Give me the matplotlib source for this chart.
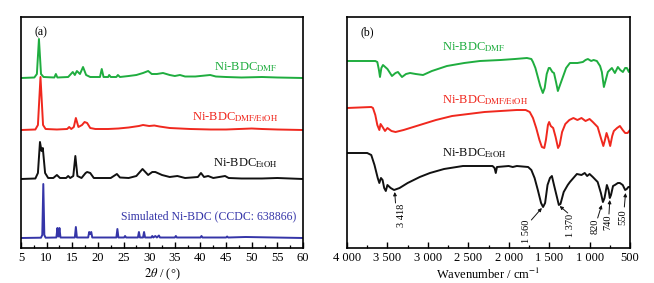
import matplotlib
matplotlib.use("Agg")
import matplotlib.pyplot as plt
import numpy as np

plt.rcParams["font.family"] = ["Liberation Serif", "DejaVu Serif"]
plt.rcParams["mathtext.fontset"] = "stix"

# ---- XRD (a): 2theta and intensity above each trace's baseline ----
XRD_DMF_X = [5, 7.6, 8.1, 8.5, 8.9, 9.4, 11.5, 11.8, 12.1, 14.2, 15.1, 15.5, 15.9,
             16.5, 17.1, 17.7, 18.5, 20.4, 20.75, 21.1, 22.0, 22.2, 22.5, 23.6, 23.9,
             24.3, 26, 27.5, 28.8, 29.8, 30.5, 31.5, 32.7, 34, 35, 36, 37, 39, 41.9,
             43, 45, 48, 52, 55, 60]
XRD_DMF_Y = [0, 0.5, 4, 39, 4, 1, 0.5, 4, 0.5, 1, 6, 3, 7,
             4, 11, 3, 1, 1, 9, 1, 1, 3, 1, 1, 3,
             1, 2, 3, 5, 7, 4, 4, 5, 3, 2, 3, 1.5, 1.5, 3,
             1.5, 1, 0.5, 1, 0.5, 0]

XRD_MIX_X = [5, 7.8, 8.3, 8.8, 9.3, 9.8, 12, 14.0, 14.4, 14.8, 15.3, 15.7, 16.2,
             16.9, 17.4, 17.9, 18.5, 19.5, 22, 24, 26, 28, 28.8, 30, 31, 32, 34, 36,
             38, 42, 45, 50, 52, 55, 60]
XRD_MIX_Y = [0, 0.5, 5, 53, 5, 1, 0.5, 1, 3, 1, 3, 12, 3,
             5, 8, 7, 2, 1, 1, 1.5, 2.5, 4, 5, 4, 4.5, 3.5, 2, 1.5,
             1, 0.5, 0.5, 1.5, 1, 0.5, 0]

XRD_ETOH_X = [5, 7.8, 8.3, 8.7, 9.0, 9.25, 9.7, 10.3, 11.3, 12.0, 12.6, 13.8, 14.2,
              14.6, 15.2, 15.6, 16.0, 16.8, 17.6, 17.9, 18.5, 19.2, 22.5, 23.7, 24.3,
              26, 27.5, 28.7, 29.8, 30.6, 31.2, 32.5, 34, 35.5, 37, 39.5, 40.1, 40.7,
              41.5, 42.5, 44.8, 45.5, 48, 52, 55, 60]
XRD_ETOH_Y = [0, 0.5, 6, 37, 28, 31, 6, 1, 1, 4, 1, 1, 3,
              1, 3, 23, 3, 1, 6, 7, 6, 1, 1, 5, 1.5,
              1, 3, 10, 4, 7, 7, 4, 2, 3, 1, 2, 6, 2,
              3, 1, 3, 1, 0.5, 0.5, 1, 0]

XRD_SIM_X = [5, 8.9, 9.15, 9.35, 9.55, 9.8, 11.9, 12.1, 12.3, 12.5, 12.7, 15.5,
             15.7, 15.9, 18.1, 18.3, 18.5, 18.7, 18.9, 23.6, 23.8, 24.0, 25.1, 25.3,
             25.5, 27.8, 28.0, 28.2, 28.8, 29.0, 29.2, 30.4, 30.6, 30.8, 31.2, 31.5,
             31.9, 32.1, 35.0, 35.2, 35.4, 40.0, 40.2, 40.4, 45, 45.2, 45.4, 48.8, 60]
XRD_SIM_Y = [0, 0.3, 3, 54, 3, 0.3, 0.5, 10, 1.5, 10, 0.5, 0.5,
             11, 0.5, 0.5, 6, 4, 6, 0.5, 0.5, 9, 0.5, 0.5, 2,
             0.5, 0.5, 6, 0.5, 0.5, 6, 0.5, 0.5, 2, 0.5, 2, 0.5,
             2.5, 0.5, 0.5, 2, 0.5, 0.5, 2, 0.5, 0.5, 1.5, 0.5, 1, 0]

XRD_BASE = {"DMF": 170, "MIX": 118, "ETOH": 69, "SIM": 10}

# ---- FTIR (b): wavenumber and offset transmittance ----
IR_DMF_X = [4000, 3650, 3625, 3605, 3592, 3575, 3555, 3500, 3444, 3400, 3370, 3340,
            3320, 3270, 3220, 3150, 3060, 2950, 2764, 2550, 2356, 2100, 1923, 1775,
            1720, 1700, 1670, 1640, 1610, 1578, 1555, 1530, 1505, 1490, 1460, 1440,
            1415, 1392, 1370, 1330, 1290, 1243, 1150, 1083, 1050, 1021, 980, 950,
            910, 870, 848, 823, 800, 774, 750, 724, 687, 650, 620, 588, 560, 539,
            514, 500]
IR_DMF_Y = [187, 187, 186, 178, 171, 180, 183, 179, 172, 175, 176, 173,
            171, 174, 175, 174, 173, 177, 182, 185, 187, 188, 189, 190,
            189, 186, 180, 171, 162, 155, 160, 174, 180, 180, 176, 175,
            166, 157, 162, 171, 180, 185, 185, 186, 188, 189, 187, 188,
            187, 182, 176, 161, 168, 176, 178, 180, 175, 181, 178, 176, 180, 180,
            176, 179]

IR_MIX_X = [4000, 3700, 3679, 3650, 3625, 3600, 3585, 3560, 3530, 3500, 3450, 3400,
            3300, 3100, 2900, 2700, 2500, 2300, 2100, 1900, 1790, 1740, 1700, 1660,
            1620, 1590, 1560, 1540, 1515, 1500, 1480, 1450, 1420, 1390, 1370, 1340,
            1300, 1250, 1200, 1150, 1100, 1050, 1000, 960, 900, 860, 830, 810, 790,
            770, 745, 720, 700, 660, 625, 590, 560, 530, 500]
IR_MIX_Y = [140, 141, 140, 133, 123, 118, 124, 121, 117, 120, 117, 116,
            118, 123, 128, 132, 134, 136, 137, 138, 138, 136, 130, 120,
            108, 101, 100, 108, 123, 126, 122, 120, 111, 100, 103, 116,
            124, 128, 130, 128, 130, 127, 129, 126, 121, 110, 102, 108, 115,
            110, 102, 112, 117, 120, 122, 118, 115, 115, 118]

IR_ETOH_X = [4000, 3750, 3700, 3660, 3620, 3600, 3580, 3560, 3540, 3520, 3500, 3460,
             3418, 3350, 3250, 3100, 2974, 2800, 2566, 2400, 2200, 2175, 2160, 2145,
             2000, 1950, 1900, 1760, 1720, 1680, 1640, 1600, 1575, 1550, 1520, 1490,
             1466, 1440, 1410, 1380, 1360, 1320, 1270, 1243, 1157, 1100, 1060, 1030,
             1000, 960, 900, 860, 835, 815, 786, 765, 750, 735, 710, 687, 650, 625,
             590, 560, 540, 520, 500]
IR_ETOH_Y = [95, 95, 93, 83, 70, 65, 70, 68, 60, 57, 63, 60,
             58, 60, 65, 71, 75, 79, 82, 82, 82, 80, 75, 81,
             82, 81, 82, 81, 78, 70, 58, 45, 41, 45, 63, 70,
             72, 63, 53, 43, 44, 56, 63, 66, 74, 73, 75, 72,
             74, 71, 66, 55, 46, 50, 63, 58, 50, 53, 62, 63, 65, 65,
             63, 58, 59, 61, 61]

# band labels: text, text x, text y, arrow tail, arrow head
BAND_LABELS = ["3 418", "1 560", "1 370", "820", "740", "550"]
BAND_TEXT_X = [3320, 1775, 1231, 934, 774, 589]
BAND_TEXT_Y = [33, 17, 23, 22, 26, 31]
BAND_TAIL = [(3400, 45), (1720, 28), (1270, 35), (900, 30), (760, 34), (570, 41)]
BAND_HEAD = [(3410, 56), (1590, 40), (1370, 42), (850, 43), (750, 48), (555, 55)]

GREEN = "#1fad3f"
RED = "#f0281e"
BLACK = "#111111"
BLUE = "#3535a8"
FS = 8.5
LW = 1.4

fig = plt.figure(figsize=(6.54, 2.83), dpi=100)
ax1 = fig.add_axes([21 / 654, 35 / 283, 282 / 654, 231 / 283])
ax2 = fig.add_axes([347 / 654, 35 / 283, 283 / 654, 231 / 283])

# ---- panel (a) ----
for xs, ys, key, c in [(XRD_DMF_X, XRD_DMF_Y, "DMF", GREEN),
                       (XRD_MIX_X, XRD_MIX_Y, "MIX", RED),
                       (XRD_ETOH_X, XRD_ETOH_Y, "ETOH", BLACK),
                       (XRD_SIM_X, XRD_SIM_Y, "SIM", BLUE)]:
    ax1.plot(xs, np.array(ys) + XRD_BASE[key], color=c, lw=LW)

ax1.set_xlim(5, 60)
ax1.set_ylim(0, 231)
ax1.set_xticks(range(5, 61, 5))
ax1.set_xticks(np.arange(7.5, 60, 5), minor=True)
ax1.set_yticks([])
ax1.set_xlabel(r"$\mathit{2\theta}$ / (°)", fontsize=FS + 0.5, labelpad=2)
ax1.text(8.8, 216, "(a)", fontsize=FS, ha="center", va="center")
ax1.text(55.1, 181, r"Ni-BDC$_{\rm DMF}$", color=GREEN, fontsize=FS + 0.5, ha="right", va="center")
ax1.text(55.1, 131, r"Ni-BDC$_{\rm DMF/EtOH}$", color=RED, fontsize=FS + 0.5, ha="right", va="center")
ax1.text(55.1, 85, r"Ni-BDC$_{\rm EtOH}$", color=BLACK, fontsize=FS + 0.5, ha="right", va="center")
ax1.text(41.5, 32, "Simulated Ni-BDC (CCDC: 638866)", color=BLUE, fontsize=FS,
         ha="center", va="center")

# ---- panel (b) ----
ax2.plot(IR_DMF_X, IR_DMF_Y, color=GREEN, lw=LW)
ax2.plot(IR_MIX_X, IR_MIX_Y, color=RED, lw=LW)
ax2.plot(IR_ETOH_X, IR_ETOH_Y, color=BLACK, lw=LW)
ax2.set_xlim(4000, 500)
ax2.set_ylim(0, 231)
ticks = list(range(4000, 499, -500))
ax2.set_xticks(ticks)
ax2.set_xticklabels([f"{t:,}".replace(",", " ") for t in ticks])
ax2.set_xticks(range(3750, 500, -500), minor=True)
ax2.set_yticks([])
ax2.set_xlabel("Wavenumber / cm$^{-1}$", fontsize=FS + 0.5, labelpad=2)
ax2.text(3750, 216, "(b)", fontsize=FS, ha="center", va="center")
ax2.text(2826, 201, r"Ni-BDC$_{\rm DMF}$", color=GREEN, fontsize=FS + 0.5, ha="left", va="center")
ax2.text(2826, 148, r"Ni-BDC$_{\rm DMF/EtOH}$", color=RED, fontsize=FS + 0.5, ha="left", va="center")
ax2.text(2826, 95, r"Ni-BDC$_{\rm EtOH}$", color=BLACK, fontsize=FS + 0.5, ha="left", va="center")

for lab, tx, ty, tail, head in zip(BAND_LABELS, BAND_TEXT_X, BAND_TEXT_Y, BAND_TAIL, BAND_HEAD):
    ax2.text(tx, ty, lab, rotation=90, fontsize=FS - 1, ha="center", va="center")
    ax2.annotate("", xy=head, xytext=tail,
                 arrowprops=dict(arrowstyle="-|>", color=BLACK, lw=0.7,
                                 mutation_scale=5, shrinkA=0, shrinkB=0))

for ax in (ax1, ax2):
    for s in ax.spines.values():
        s.set_linewidth(1.2)
    ax.tick_params(axis="x", which="major", direction="in", length=4, width=1.0,
                   labelsize=FS + 0.5, pad=3)
    ax.tick_params(axis="x", which="minor", direction="in", length=2.5, width=0.9)

fig.savefig("out.png", dpi=100)
